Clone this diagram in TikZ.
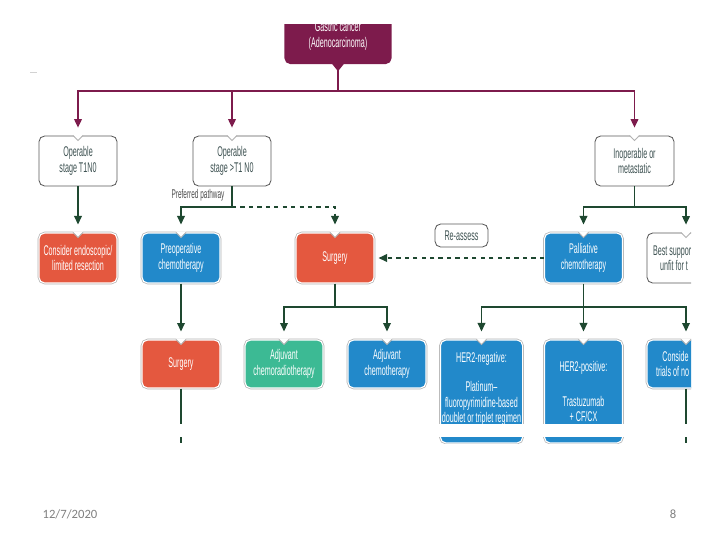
\documentclass[tikz,border=0pt]{standalone}
\usepackage{fontspec}
\setmainfont{Liberation Sans}
\newfontfamily\boxfont[FakeStretch=0.51]{Liberation Sans}
\newfontfamily\footfont{Carlito}
\usetikzlibrary{arrows.meta,calc}

\definecolor{gcmaroon}{RGB}{125,27,76}
\definecolor{boxred}{RGB}{228,88,63}
\definecolor{boxblue}{RGB}{34,137,202}
\definecolor{boxgreen}{RGB}{60,186,148}
\definecolor{linkgreen}{RGB}{30,72,48}
\definecolor{slatetext}{RGB}{62,82,82}

\tikzset{
  treebox/.style={rounded corners=4pt, minimum width=1.95cm, minimum height=1.25cm,
    align=center, inner sep=1pt, font=\boxfont\fontsize{10}{11}\selectfont},
  whitebox/.style={treebox, fill=white, draw=gray!70!black, line width=0.6pt, text=slatetext},
  colourbox/.style={treebox, preaction={draw=gray!60, line width=1.8pt}, draw=white, line width=0.8pt, text=white},
  redbox/.style={colourbox, fill=boxred},
  bluebox/.style={colourbox, fill=boxblue},
  greenbox/.style={colourbox, fill=boxgreen},
  link/.style={linkgreen, line width=0.8pt},
  linkarrow/.style={link, -{Triangle[width=5.5pt,length=6pt]}, shorten >=0.2cm},
  toplink/.style={gcmaroon, line width=0.8pt},
  toparrow/.style={toplink, -{Triangle[width=5.5pt,length=6pt]}, shorten >=0.2cm}
}

\begin{document}
\begin{tikzpicture}[x=0.025cm, y=-0.025cm]
\useasboundingbox (0,0) rectangle (720,540);

% stray mark at the left
\draw[gray!35, line width=0.6pt] (30,72) -- (37,72);

\begin{scope}
\clip (0,24) rectangle (691,443);

% root
\node[treebox, fill=gcmaroon, text=white, minimum width=2.675cm, minimum height=1.4cm] (gc) at (338,36) {Gastric cancer\\(Adenocarcinoma)};
\fill[gcmaroon] ($(gc.south)+(-6,-0.5)$) -- ($(gc.south)+(6,-0.5)$) -- ($(gc.south)+(0,7)$) -- cycle;

% first row: staging
\node[whitebox] (op1) at (78,161) {Operable\\stage T1N0};
\node[whitebox] (op2) at (232,161) {Operable\\stage >T1 N0};
\node[whitebox, minimum width=1.975cm] (inop) at (634.5,161) {Inoperable or\\metastatic};

% second row
\node[redbox] (endo) at (78,258) {Consider endoscopic/\\limited resection};
\node[bluebox] (preop) at (181,258) {Preoperative\\chemotherapy};
\node[redbox] (surg) at (335,258) {Surgery};
\node[whitebox, minimum width=1.325cm, minimum height=0.575cm] (reass) at (461.5,235.5) {Re-assess};
\node[bluebox] (pall) at (583.5,258) {Palliative\\chemotherapy};
\node[whitebox, text width=1.65cm, align=flush left] (bsc) at (686,258) {Best suppor\\\hspace*{5pt}unfit for t};
\node[font=\boxfont\fontsize{9}{10}\selectfont, text=black!70] (pref) at (198,195) {Preferred pathway};

% third row
\node[redbox, minimum height=1.2cm] (surgb) at (181,364) {Surgery};
\node[greenbox, minimum height=1.2cm] (adjcrt) at (284,364) {Adjuvant\\chemoradiotherapy};
\node[bluebox, minimum height=1.2cm] (adjct) at (387,364) {Adjuvant\\chemotherapy};
\node[bluebox, minimum width=1.975cm, minimum height=2.575cm, text depth=6pt] (hneg) at (481.5,391.5) {HER2-negative:\\[10pt]Platinum–\\fluoropyrimidine-based\\doublet or triplet regimen};
\node[bluebox, minimum height=2.575cm] (hpos) at (583.5,391.5) {HER2-positive:\\[13.5pt]Trastuzumab\\+ CF/CX};
\node[bluebox, minimum height=1.2cm, text width=1.5cm, align=flush left] (trials) at (686,364) {\hspace*{4.5pt}Conside\\trials of no};

% notches on top of the boxes
\foreach \n in {op1,op2,inop,endo,preop,surg,pall,bsc,surgb,adjcrt,adjct,hneg,hpos,trials}{
  \fill[white] ($(\n.north)+(-5,-1)$) -- ($(\n.north)+(0,5)$) -- ($(\n.north)+(5,-1)$) -- cycle;
  \draw[gray!60, line width=0.6pt] ($(\n.north)+(-5,0)$) -- ($(\n.north)+(0,5)$) -- ($(\n.north)+(5,0)$);
}

% junctions
\coordinate (jtop) at (338,91);
\coordinate (jop) at (232,207);
\coordinate (jinop) at (634.5,207);
\coordinate (jsurg) at (335,307);
\coordinate (jpall) at (583.5,307);
\coordinate (endl) at (181,443);
\coordinate (endr) at (686,443);

% root to staging
\draw[toplink] ($(gc.south)+(0,6)$) -- (jtop);
\draw[toparrow] (jtop) -| (op1.north);
\draw[toparrow] (jtop) -| (op2.north);
\draw[toparrow] (jtop) -| (inop.north);

% staging to treatment
\draw[linkarrow] (op1.south) -- (endo.north);
\draw[link] (op2.south) -- (jop);
\draw[linkarrow] (jop) -| (preop.north);
\draw[linkarrow, dashed] (jop) -| (surg.north);
\draw[link] (inop.south) -- (jinop);
\draw[linkarrow] (jinop) -| (pall.north);
\draw[linkarrow] (jinop) -| (bsc.north);
\draw[linkarrow, dashed, shorten >=0.1cm] (pall.west) -- (surg.east);

% treatment to next step
\draw[linkarrow] (preop.south) -- (surgb.north);
\draw[link] (surg.south) -- (jsurg);
\draw[linkarrow] (jsurg) -| (adjcrt.north);
\draw[linkarrow] (jsurg) -| (adjct.north);
\draw[link] (pall.south) -- (jpall);
\draw[linkarrow] (jpall) -| (hneg.north);
\draw[linkarrow] (jpall) -- (hpos.north);
\draw[linkarrow] (jpall) -| (trials.north);
\draw[link] (surgb.south) -- (endl);
\draw[link] (trials.south) -- (endr);
\end{scope}

% cut through the lower row
\fill[white] (0,424) rectangle (720,437);

% footer
\node[font=\footfont\fontsize{9}{11}\selectfont, text=gray] (date) at (70,514) {12/7/2020};
\node[font=\footfont\fontsize{9}{11}\selectfont, text=gray] (page) at (673,514) {8};
\end{tikzpicture}
\end{document}
